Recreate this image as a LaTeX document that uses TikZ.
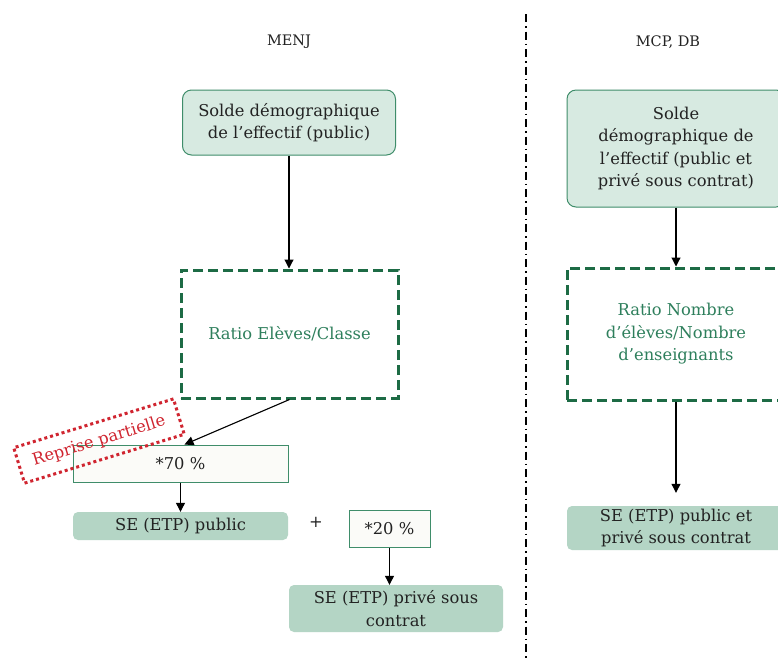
\documentclass[tikz,border=0pt]{standalone}
\usepackage{fontspec}
\setmainfont{DejaVu Serif}
\usetikzlibrary{arrows.meta,calc}
\definecolor{boxfill}{HTML}{D7EAE1}
\definecolor{boxline}{HTML}{3F8D6A}
\definecolor{dgreen}{HTML}{1D6B45}
\definecolor{tgreen}{HTML}{2E7F5C}
\definecolor{sefill}{HTML}{B4D5C5}
\definecolor{pfill}{HTML}{FBFBF8}
\definecolor{rred}{HTML}{D02530}
\definecolor{txt}{HTML}{222222}
\tikzset{
  every node/.style={font=\fontsize{16.3}{22.5}\selectfont, text=txt, inner sep=0pt, align=center},
  solde/.style={draw=boxline, line width=1pt, fill=boxfill, rounded corners=9pt},
  ratiobox/.style={draw=dgreen, line width=3pt, dash pattern=on 10pt off 5pt, text=tgreen},
  pctbox/.style={draw=boxline, line width=1pt, fill=pfill},
  sebox/.style={fill=sefill, rounded corners=5pt},
  conn/.style={line width=1.1pt, -{Triangle[width=9pt,length=9pt]}},
  reprise/.style={draw=rred, line width=3pt, dash pattern=on 3pt off 3pt, text=rred},
  sepline/.style={line width=1.3pt, dash pattern=on 8pt off 4pt on 1.5pt off 4pt},
  head/.style={font=\fontsize{14.5}{18}\selectfont}
}
\begin{document}
\begin{tikzpicture}[x=1pt,y=-1pt]
\useasboundingbox (0,0) rectangle (778,657);
\clip (0,0) rectangle (778,657);
\fill[white] (0,0) rectangle (778,657);

\coordinate (septop) at (526,14);
\coordinate (sepbot) at (526,660);
\draw[sepline] (septop) -- (sepbot);

\node[head] (menj) at (289,42) {MENJ};
\node[head] (mcp) at (668,42) {MCP, DB};

% left column
\node[solde, minimum width=213pt, minimum height=65pt] (solde1) at (289,122.5)
  {Solde démographique\\de l’effectif (public)};
\node[ratiobox, minimum width=217pt, minimum height=128pt] (ratio1) at (289.5,334)
  {Ratio Elèves/Classe};
\node[pctbox, minimum width=215pt, minimum height=37pt] (p70) at (180.5,463.5) {*70 \%};
\node[reprise, rotate=17, minimum width=167pt, minimum height=37pt] (rep) at (99,441)
  {Reprise partielle};
\node[sebox, minimum width=215pt, minimum height=28pt] (sepub) at (180.5,526) {SE (ETP) public};
\node (plus) at (316,522) {+};
\node[pctbox, minimum width=81pt, minimum height=37pt] (p20) at (389.5,528.5) {*20 \%};
\node[sebox, minimum width=214pt, minimum height=47pt] (sepriv) at (396,608.5)
  {SE (ETP) privé sous\\contrat};

\draw[conn] (solde1.south) -- (solde1.south |- ratio1.north);
\draw[conn] (ratio1.south) -- ([xshift=4pt]p70.north);
\draw[conn] (p70.south) -- (sepub.north);
\draw[conn] (p20.south) -- (p20.south |- sepriv.north);

% right column
\node[solde, minimum width=218pt, minimum height=117pt] (solde2) at (676,148.5)
  {Solde\\démographique de\\l’effectif (public et\\privé sous contrat)};
\node[ratiobox, minimum width=218pt, minimum height=132pt] (ratio2) at (676,334)
  {Ratio Nombre\\d’élèves/Nombre\\d’enseignants};
\node[sebox, minimum width=218pt, minimum height=44pt] (seall) at (676,528)
  {SE (ETP) public et\\privé sous contrat};

\draw[conn] (solde2.south) -- (ratio2.north);
\draw[conn] (ratio2.south) -- ([yshift=13pt]seall.north);
\end{tikzpicture}
\end{document}
